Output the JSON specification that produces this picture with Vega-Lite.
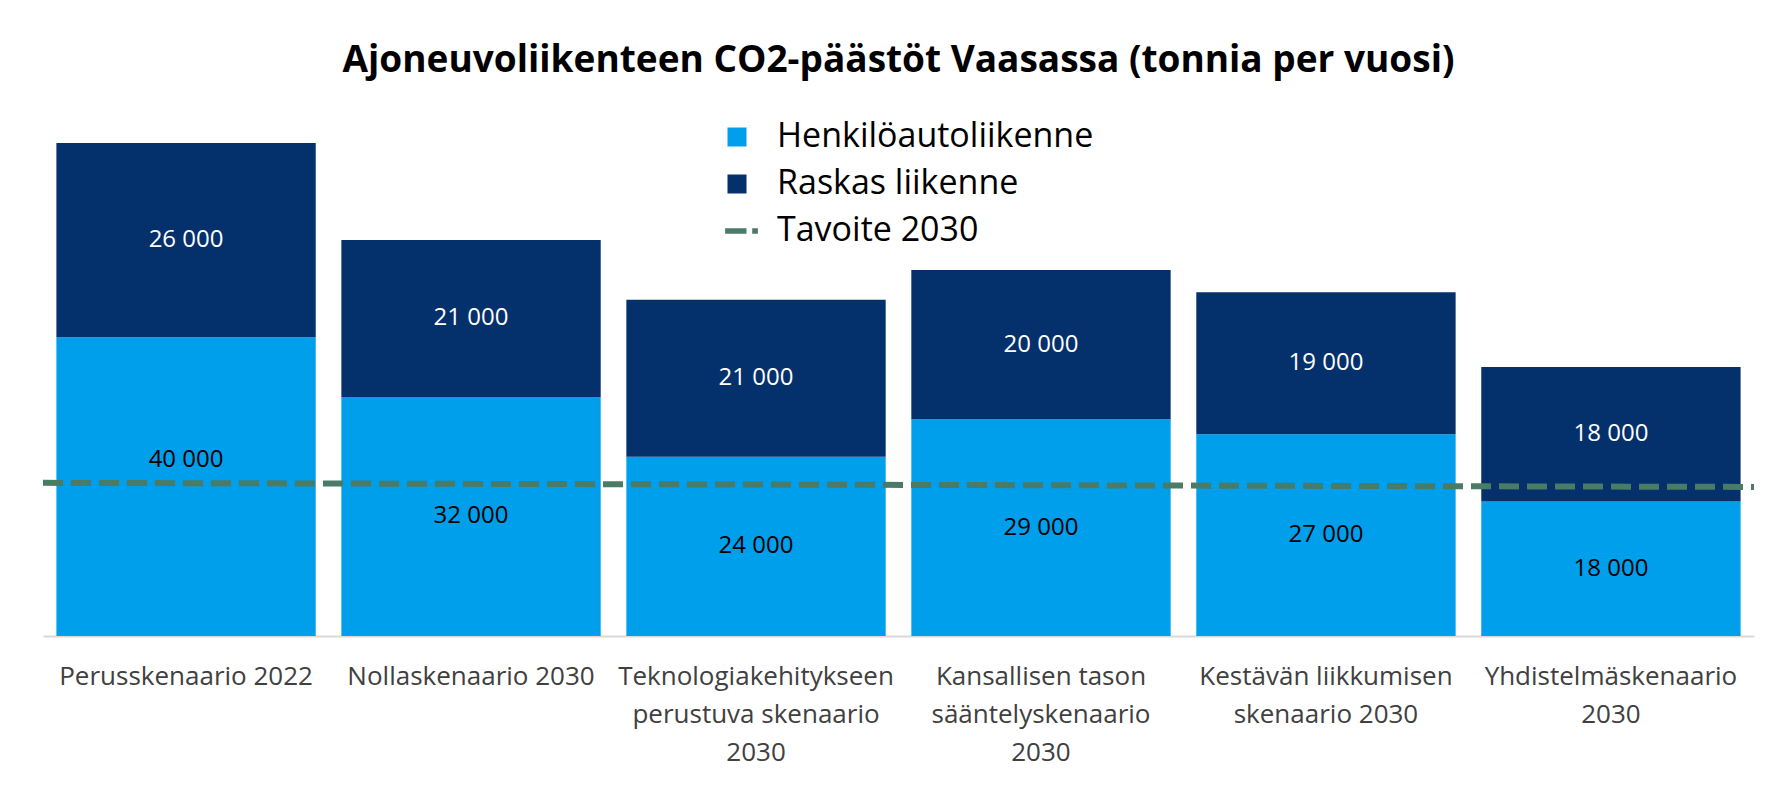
{
  "$schema": "https://vega.github.io/schema/vega-lite/v6.json",
  "autosize": "none",
  "width": 1711,
  "height": 523,
  "padding": {"left": 43, "top": 113, "right": 11, "bottom": 149},
  "background": "white",
  "title": {
    "text": "Ajoneuvoliikenteen CO2-päästöt Vaasassa (tonnia per vuosi)",
    "font": "Open Sans",
    "fontSize": 37,
    "fontWeight": "bold",
    "color": "#000000",
    "anchor": "middle",
    "offset": 33
  },
  "config": {
    "view": {"stroke": null},
    "locale": {"number": {"decimal": ",", "thousands": " ", "grouping": [3], "currency": ["", " €"]}}
  },
  "datasets": {
    "bars": [
      {"scenario": "Perusskenaario 2022", "series": "Henkilöautoliikenne", "value": 40000},
      {"scenario": "Perusskenaario 2022", "series": "Raskas liikenne", "value": 26000},
      {"scenario": "Nollaskenaario 2030", "series": "Henkilöautoliikenne", "value": 32000},
      {"scenario": "Nollaskenaario 2030", "series": "Raskas liikenne", "value": 21000},
      {"scenario": "Teknologiakehitykseen|perustuva skenaario|2030", "series": "Henkilöautoliikenne", "value": 24000},
      {"scenario": "Teknologiakehitykseen|perustuva skenaario|2030", "series": "Raskas liikenne", "value": 21000},
      {"scenario": "Kansallisen tason|sääntelyskenaario|2030", "series": "Henkilöautoliikenne", "value": 29000},
      {"scenario": "Kansallisen tason|sääntelyskenaario|2030", "series": "Raskas liikenne", "value": 20000},
      {"scenario": "Kestävän liikkumisen|skenaario 2030", "series": "Henkilöautoliikenne", "value": 27000},
      {"scenario": "Kestävän liikkumisen|skenaario 2030", "series": "Raskas liikenne", "value": 19000},
      {"scenario": "Yhdistelmäskenaario|2030", "series": "Henkilöautoliikenne", "value": 18000},
      {"scenario": "Yhdistelmäskenaario|2030", "series": "Raskas liikenne", "value": 18000}
    ],
    "target": [
      {"t": 0, "value": 20500},
      {"t": 1, "value": 19950}
    ]
  },
  "layer": [
    {
      "data": {"name": "bars"},
      "encoding": {
        "x": {
          "field": "scenario",
          "type": "nominal",
          "sort": null,
          "scale": {"paddingInner": 0.09, "paddingOuter": 0.047},
          "axis": {
            "title": null,
            "labelAngle": 0,
            "labelExpr": "split(datum.label, '|')",
            "labelFont": "Open Sans",
            "labelFontSize": 26,
            "labelColor": "#404040",
            "labelLineHeight": 38,
            "labelPadding": 27,
            "labelLimit": 0,
            "ticks": false,
            "domainColor": "#D9D9D9",
            "domainWidth": 2
          }
        }
      },
      "layer": [
        {
          "mark": {"type": "bar"},
          "encoding": {
            "y": {
              "field": "value",
              "type": "quantitative",
              "stack": "zero",
              "scale": {"domain": [0, 70000]},
              "axis": null
            },
            "order": {"field": "series", "type": "ordinal", "sort": "ascending"},
            "color": {
              "field": "series",
              "type": "nominal",
              "scale": {
                "domain": ["Henkilöautoliikenne", "Raskas liikenne", "Tavoite 2030"],
                "range": ["#009FEC", "#04306B", "#4A7B66"]
              },
              "legend": {
                "title": null,
                "orient": "none",
                "legendX": 677,
                "legendY": 7,
                "direction": "vertical",
                "symbolSize": 361,
                "symbolType": "square",
                "symbolStrokeWidth": 0,
                "labelFont": "Open Sans",
                "labelFontSize": 34,
                "labelColor": "#000000",
                "labelOffset": 23,
                "labelLimit": 0,
                "rowPadding": 13,
                "encode": {
                  "symbols": {
                    "update": {
                      "shape": {"signal": "datum.value === 'Tavoite 2030' ? 'M-1.25,-0.3H1V0.3H-1.25Z M1.6,-0.3H2.2V0.3H1.6Z' : 'square'"}
                    }
                  }
                }
              }
            }
          }
        },
        {
          "mark": {"type": "text", "font": "Open Sans", "fontSize": 24, "baseline": "middle", "align": "center"},
          "encoding": {
            "y": {"field": "value", "type": "quantitative", "stack": "zero", "bandPosition": 0.5},
            "detail": {"field": "series"},
            "order": {"field": "series", "type": "ordinal", "sort": "ascending"},
            "text": {"field": "value", "type": "quantitative", "format": ",d"},
            "color": {"condition": {"test": "datum.series === 'Raskas liikenne'", "value": "#FFFFFF"}, "value": "#000000"},
            "opacity": {"condition": {"test": "datum.series === 'Henkilöautoliikenne' && datum.scenario === 'Perusskenaario 2022'", "value": 0}, "value": 1}
          }
        },
        {
          "transform": [{"filter": "datum.series === 'Henkilöautoliikenne' && datum.scenario === 'Perusskenaario 2022'"}],
          "mark": {"type": "text", "font": "Open Sans", "fontSize": 24, "baseline": "middle", "align": "center", "dy": -27, "color": "#000000"},
          "encoding": {
            "y": {"field": "value", "type": "quantitative", "stack": "zero", "bandPosition": 0.5},
            "detail": {"field": "series"},
            "text": {"field": "value", "type": "quantitative", "format": ",d"}
          }
        }
      ]
    },
    {
      "data": {"name": "target"},
      "mark": {"type": "line", "color": "#4A7B66", "strokeWidth": 6, "strokeDash": [20, 8]},
      "encoding": {
        "x": {"field": "t", "type": "quantitative", "scale": {"domain": [0, 1]}, "axis": null},
        "y": {"field": "value", "type": "quantitative"}
      }
    }
  ],
  "resolve": {"scale": {"x": "independent"}}
}
